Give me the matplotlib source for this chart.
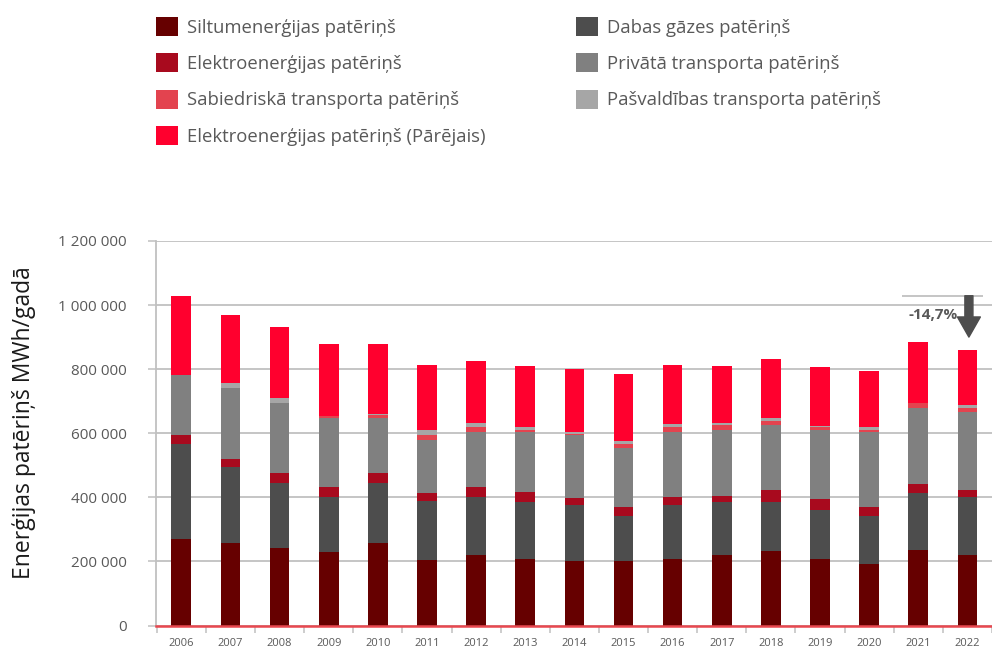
import matplotlib
matplotlib.use("Agg")
from matplotlib import pyplot as plt
from matplotlib.ticker import FuncFormatter

# values in MWh/year (thousands)
years = [str(y) for y in range(2006, 2023)]
siltum = [271, 256, 243, 228, 256, 206, 219, 209, 200, 200, 209, 219, 231, 209, 191, 237, 219]
gaze = [294, 238, 201, 173, 188, 181, 182, 177, 176, 142, 167, 167, 155, 152, 151, 176, 182]
elektro = [31, 25, 31, 31, 31, 26, 31, 30, 22, 28, 25, 18, 37, 34, 28, 28, 22]
privatais = [185, 222, 220, 216, 171, 167, 171, 187, 195, 184, 202, 207, 204, 216, 233, 238, 244]
sabiedriskais = [0, 0, 0, 7, 10, 16, 15, 8, 5, 11, 15, 16, 12, 10, 8, 16, 12]
pasvaldibas = [0, 16, 15, 0, 3, 15, 15, 7, 7, 12, 12, 6, 9, 3, 7, 0, 10]
parejais = [248, 213, 220, 222, 221, 201, 192, 191, 195, 208, 182, 176, 183, 182, 176, 189, 170]

series = [
    ("Siltumenerģijas patēriņš", siltum, "#660000"),
    ("Dabas gāzes patēriņš", gaze, "#4d4d4d"),
    ("Elektroenerģijas patēriņš", elektro, "#a80a1e"),
    ("Privātā transporta patēriņš", privatais, "#808080"),
    ("Sabiedriskā transporta patēriņš", sabiedriskais, "#e3434f"),
    ("Pašvaldības transporta patēriņš", pasvaldibas, "#a6a6a6"),
    ("Elektroenerģijas patēriņš (Pārējais)", parejais, "#ff002e"),
]
change_label = "-14,7%"

plt.rcParams["font.family"] = ["Open Sans", "DejaVu Sans"]

fig = plt.figure(figsize=(9.92, 6.46), dpi=100)
ax = fig.add_axes([0.157, 0.0317, 0.843, 0.5953])

x = list(range(len(years)))
bottom = [0] * len(years)
bars = {}
for name, vals, color in series:
    v = [a * 1000 for a in vals]
    bars[name] = ax.bar(x, v, width=0.4, bottom=bottom, color=color, label=name, zorder=2)
    bottom = [b + c for b, c in zip(bottom, v)]
totals = bottom

ax.set_ylim(0, 1200000)
ax.set_xlim(-0.52, 16.32)
ax.set_yticks(range(0, 1200001, 200000))
ax.yaxis.set_major_formatter(FuncFormatter(lambda v, p: f"{int(v):,}".replace(",", " ")))
ax.set_xticks(x)
ax.set_xticklabels(years)
ax.set_xticks([i - 0.5 for i in range(len(years) + 1)], minor=True)

ax.yaxis.grid(True, color="#c0c0c0", lw=1.3)
ax.set_axisbelow(True)
for s in ["top", "right", "bottom"]:
    ax.spines[s].set_visible(False)
ax.spines["left"].set_color("#c0c0c0")
ax.spines["left"].set_linewidth(1.3)
ax.axhline(0, color="#e8474f", lw=1.8, zorder=3, clip_on=False)

ax.tick_params(axis="y", length=5.8, width=1.1, color="#c0c0c0", pad=15,
               labelsize=11, labelcolor="#595959")
ax.tick_params(axis="x", which="major", length=0, pad=9, labelsize=8, labelcolor="#595959")
ax.tick_params(axis="x", which="minor", length=5, width=1.1, color="#c0c0c0")

fig.text(0.024, 0.346, "Enerģijas patēriņš MWh/gadā", rotation=90, ha="center", va="center",
         fontsize=16.5, color="#1a1a1a")

# change marker from 2006 level down to 2022
ax.hlines(totals[0], 14.66, 16.32, color="#c0c0c0", lw=1.3, clip_on=False, zorder=1)
ax.annotate("", xy=(16.03, 900000), xytext=(16.03, totals[0]),
            arrowprops=dict(width=5.8, headwidth=16.5, headlength=14.5, color="#4d4d4d", shrink=0))
ax.text(14.8, 970000, change_label, ha="left", va="center", fontsize=11,
        fontweight="bold", color="#595959")

names = [s[0] for s in series]
left_names = [names[0], names[2], names[4], names[6]]
right_names = [names[1], names[3], names[5]]
leg_kw = dict(frameon=False, loc="upper left", fontsize=13.3, borderpad=0, borderaxespad=0,
              handlelength=1.2, handleheight=1.2, handletextpad=0.48, labelspacing=0.9,
              labelcolor="#595959")
fig.legend([bars[n] for n in left_names], left_names,
           bbox_to_anchor=(156 / 992, 1 - 17 / 646), **leg_kw)
fig.legend([bars[n] for n in right_names], right_names,
           bbox_to_anchor=(576 / 992, 1 - 17 / 646), **leg_kw)

fig.savefig("out.png", dpi=100)
